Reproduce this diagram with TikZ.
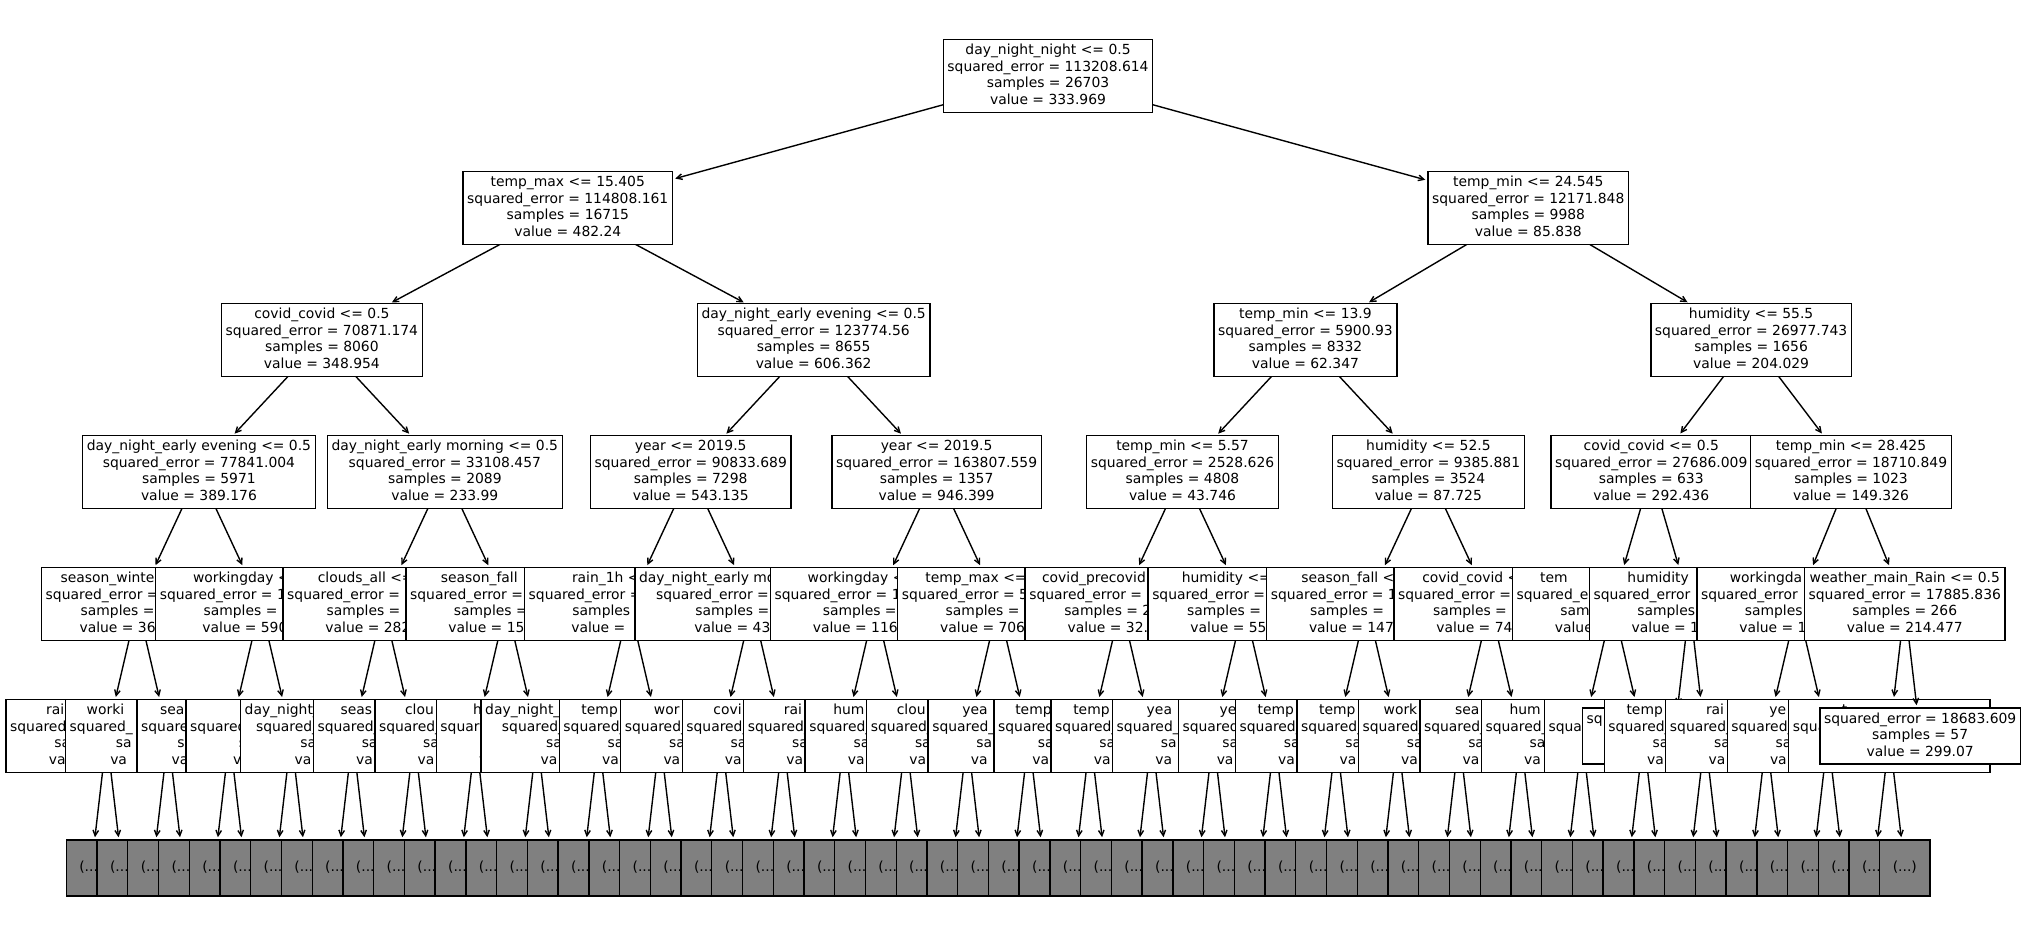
\documentclass[tikz,border=0pt]{standalone}
\usepackage{fontspec}
\setmainfont{DejaVu Sans}
\usetikzlibrary{arrows.meta}
\pgfdeclarelayer{bg}
\pgfdeclarelayer{l6}
\pgfdeclarelayer{l5}
\pgfdeclarelayer{l4}
\pgfdeclarelayer{l3}
\pgfdeclarelayer{l2}
\pgfdeclarelayer{l1}
\pgfsetlayers{bg,l6,l5,l4,l3,l2,l1,main}
\definecolor{mplgrey}{HTML}{808080}
\newcommand\bxfs{\fontsize{13.89pt}{16.5pt}\selectfont}
\newcommand\bxst{\rule[-3.3pt]{0pt}{13.9pt}}
\newcommand\bxF[4]{\bxst#1\\\bxst#2\\\bxst#3\\\bxst#4}
\newcommand\bxT[3]{\bxst#1\\\bxst#2\\\bxst#3}
\newcommand\bxV[2]{\makebox[#1pt][l]{#2}}
\newcommand\ph[1]{\phantom{#1}}
\newcommand\ux[1]{91.37+30.736*#1}
\newcommand\bxL[3]{\bxF{\bxV{#1}{#2}}{\bxV{#3}{squared\_}}{\bxV{104.7}{sa}}{\bxV{115.9}{va}}}
\tikzset{
  bx/.style={draw=black, fill=white, line width=1.39pt, inner xsep=4.17pt, inner ysep=0pt,
    outer sep=0pt, minimum height=72.6pt, align=center, font=\bxfs},
  lf/.style={bx, minimum height=56pt},
  gr/.style={bx, fill=mplgrey, minimum height=56pt, minimum width=50.1pt},
  ar/.style={line width=1.39pt, -{Straight Barb[length=5.56pt,width=5.56pt]}, shorten >=2.78pt}
}
\begin{document}
\begin{tikzpicture}[x=1pt,y=-1pt]
\useasboundingbox (0,0) rectangle (2026,944);
\begin{pgfonlayer}{bg}\fill[white] (0,0) rectangle (2026,944);\end{pgfonlayer}
% level 0
\node[bx] (a) at ({\ux{31.125}},76) {\bxF{day\_night\_night <= 0.5}{squared\_error = 113208.614}{samples = 26703}{value = 333.969}};
% level 1
\begin{pgfonlayer}{l1}
\node[bx] (b0) at ({\ux{15.5}},208) {\bxF{temp\_max <= 15.405}{squared\_error = 114808.161}{samples = 16715}{value = 482.24}};
\draw[ar] (a) -- (b0);
\node[bx] (b1) at ({\ux{46.75}},208) {\bxF{temp\_min <= 24.545}{squared\_error = 12171.848}{samples = 9988}{value = 85.838}};
\draw[ar] (a) -- (b1);
\end{pgfonlayer}
% level 2
\begin{pgfonlayer}{l2}
\node[bx] (c0) at ({\ux{7.5}},340) {\bxF{covid\_covid <= 0.5}{squared\_error = 70871.174}{samples = 8060}{value = 348.954}};
\draw[ar] (b0) -- (c0);
\node[bx] (c1) at ({\ux{23.5}},340) {\bxF{day\_night\_early evening <= 0.5}{squared\_error = 123774.56}{samples = 8655}{value = 606.362}};
\draw[ar] (b0) -- (c1);
\node[bx] (c2) at ({\ux{39.5}},340) {\bxF{temp\_min <= 13.9}{squared\_error = 5900.93}{samples = 8332}{value = 62.347}};
\draw[ar] (b1) -- (c2);
\node[bx] (c3) at ({\ux{54}},340) {\bxF{humidity <= 55.5}{squared\_error = 26977.743}{samples = 1656}{value = 204.029}};
\draw[ar] (b1) -- (c3);
\end{pgfonlayer}
% level 3
\begin{pgfonlayer}{l3}
\node[bx] (d0) at ({\ux{3.5}},472) {\bxF{day\_night\_early evening <= 0.5}{squared\_error = 77841.004}{samples = 5971}{value = 389.176}};
\draw[ar] (c0) -- (d0);
\node[bx] (d1) at ({\ux{11.5}},472) {\bxF{day\_night\_early morning <= 0.5}{squared\_error = 33108.457}{samples = 2089}{value = 233.99}};
\draw[ar] (c0) -- (d1);
\node[bx] (d2) at ({\ux{19.5}},472) {\bxF{year <= 2019.5}{squared\_error = 90833.689}{samples = 7298}{value = 543.135}};
\draw[ar] (c1) -- (d2);
\node[bx] (d3) at ({\ux{27.5}},472) {\bxF{year <= 2019.5}{squared\_error = 163807.559}{samples = 1357}{value = 946.399}};
\draw[ar] (c1) -- (d3);
\node[bx] (d4) at ({\ux{35.5}},472) {\bxF{temp\_min <= 5.57}{squared\_error = 2528.626}{samples = 4808}{value = 43.746}};
\draw[ar] (c2) -- (d4);
\node[bx] (d5) at ({\ux{43.5}},472) {\bxF{humidity <= 52.5}{squared\_error = 9385.881}{samples = 3524}{value = 87.725}};
\draw[ar] (c2) -- (d5);
\node[bx] (d6) at ({\ux{50.75}},472) {\bxF{covid\_covid <= 0.5}{squared\_error = 27686.009}{samples = 633}{value = 292.436}};
\draw[ar] (c3) -- (d6);
\node[bx] (d7) at ({\ux{57.25}},472) {\bxF{temp\_min <= 28.425}{squared\_error = 18710.849}{samples = 1023}{value = 149.326}};
\draw[ar] (c3) -- (d7);
\end{pgfonlayer}
% level 4
\begin{pgfonlayer}{l4}
\node[bx] (e0) at ({\ux{1.5}},604) {\bxF{season\_winte\ph{r <= 0.5}}{squared\_error = \ph{0000.000}}{samples = \ph{0000}}{value = 36\ph{0.000}}};
\draw[ar] (d0) -- (e0);
\node[bx] (e1) at ({\ux{5.5}},604) {\bxF{workingday <\ph{= 0.5}}{squared\_error = 1\ph{00000.000}}{samples = \ph{0000}}{value = 590\ph{.000}}};
\draw[ar] (d0) -- (e1);
\node[bx] (e2) at ({\ux{9.5}},604) {\bxF{clouds\_all <=\ph{ 00.5}}{squared\_error = \ph{00000.000}}{samples = \ph{0000}}{value = 282\ph{.000}}};
\draw[ar] (d1) -- (e2);
\node[bx] (e3) at ({\ux{13.5}},604) {\bxF{season\_fall\ph{ <= 0.5}}{squared\_error = \ph{00000.000}}{samples = \ph{000}}{value = 15\ph{0.000}}};
\draw[ar] (d1) -- (e3);
\node[bx] (e4) at ({\ux{17.5}},604) {\bxF{rain\_1h <\ph{= 0.05}}{squared\_error = \ph{000000.000}}{samples = \ph{0000}}{value = \ph{000.000}}};
\draw[ar] (d2) -- (e4);
\node[bx] (e5) at ({\ux{21.5}},604) {\bxF{day\_night\_early mo\ph{rning <= 0.5}}{squared\_error = \ph{00000.000}}{samples = \ph{0000}}{value = 43\ph{0.000}}};
\draw[ar] (d2) -- (e5);
\node[bx] (e6) at ({\ux{25.5}},604) {\bxF{workingday <\ph{= 0.5}}{squared\_error = 1\ph{00000.000}}{samples = \ph{000}}{value = 116\ph{0.000}}};
\draw[ar] (d3) -- (e6);
\node[bx] (e7) at ({\ux{29.5}},604) {\bxF{temp\_max <=\ph{ 5.555}}{squared\_error = 5\ph{0000.000}}{samples = \ph{000}}{value = 706\ph{.000}}};
\draw[ar] (d3) -- (e7);
\node[bx] (e8) at ({\ux{33.5}},604) {\bxF{covid\_precovid\ph{ <= 0.5}}{squared\_error = \ph{0000.000}}{samples = 2\ph{000}}{value = 32.\ph{000}}};
\draw[ar] (d4) -- (e8);
\node[bx] (e9) at ({\ux{37.5}},604) {\bxF{humidity <=\ph{ 00.5}}{squared\_error = \ph{0000.000}}{samples = \ph{0000}}{value = 55\ph{.000}}};
\draw[ar] (d4) -- (e9);
\node[bx] (e10) at ({\ux{41.5}},604) {\bxF{season\_fall <\ph{= 0.5}}{squared\_error = 1\ph{0000.000}}{samples = \ph{0000}}{value = 147\ph{.000}}};
\draw[ar] (d5) -- (e10);
\node[bx] (e11) at ({\ux{45.5}},604) {\bxF{covid\_covid <\ph{= 0.5}}{squared\_error = \ph{0000.000}}{samples = \ph{0000}}{value = 74\ph{.000}}};
\draw[ar] (d5) -- (e11);
\node[bx] (e12) at ({\ux{49.5}},604) {\bxF{tem\ph{p\_max <= 00.00}}{squared\_e\ph{rror = 00000.000}}{sam\ph{ples = 000}}{value\ph{ = 000.000}}};
\draw[ar] (d6) -- (e12);
\node[bx] (e13) at ({\ux{52}},604) {\bxF{humidity\ph{ <= 00.5}}{squared\_error\ph{ = 00000.000}}{samples\ph{ = 000}}{value = 1\ph{00.000}}};
\draw[ar] (d6) -- (e13);
\node[bx] (e14) at ({\ux{55.5}},604) {\bxF{workingda\ph{y <= 0.5}}{squared\_error\ph{ = 00000.000}}{samples\ph{ = 000}}{value = 1\ph{00.000}}};
\draw[ar] (d7) -- (e14);
\node[bx] (e15) at ({\ux{59}},604) {\bxF{weather\_main\_Rain <= 0.5}{squared\_error = 17885.836}{samples = 266}{value = 214.477}};
\draw[ar] (d7) -- (e15);
\end{pgfonlayer}
% level 5
\begin{pgfonlayer}{l5}
\foreach \ia/\ib/\ic/\id/\ie/\ig in {0/0.5/0/121/rai/193.1, 1/2.5/0/163/worki/197, 2/4.5/1/139/seas/177, 3/6.5/1/60//201.9,
  4/8.5/2/215.8/day\_night\_/193.1, 5/10.5/2/147/seas/193.1, 6/12.5/3/141/clou/193.1, 7/14.5/3/128/h/193.1,
  8/16.5/4/226.6/day\_night\_l/193.1, 9/18.5/4/157/temp/193.1, 10/20.5/5/135/wor/193.1, 11/22.5/5/139/covi/193.1,
  12/24.5/6/121/rai/193.1, 13/26.5/6/145/hum/193.1, 14/28.5/7/141/clou/193.1, 15/30.5/7/133/yea/193.1,
  16/32.5/8/150/temp/184.3, 17/34.5/8/157/temp/193.1, 18/36.5/9/133/yea/193.1, 19/38.5/9/110/ye/184.3,
  20/40.5/10/157/temp/193.1, 21/42.5/10/157/temp/193.1, 22/44.5/11/151/work/193.1, 23/46.5/11/131/sea/193.1,
  24/48.5/12/145/hum/193.1, 25/50.5/12/60//190}{
  \node[bx] (f\ia) at ({\ux{\ib}},736) {\bxL{\id}{\ie}{\ig}};
  \draw[ar] (e\ic) -- (f\ia);
}
\node[lf] (f26) at ({\ux{51.5}},736) {\bxT{\bxV{175.4}{sq}}{}{}};
\draw[ar] (e13) -- (f26);
\foreach \ia/\ib/\ic/\id/\ie in {27/52.5/13/157/temp, 28/54.5/14/121/rai, 29/56.5/14/117/ye, 30/58.5/15/95/t}{
  \node[bx] (f\ia) at ({\ux{\ib}},736) {\bxL{\id}{\ie}{193.1}};
  \draw[ar] (e\ic) -- (f\ia);
}
\node[lf] (f31) at ({\ux{59.5}},736) {\bxT{squared\_error = 18683.609}{samples = 57}{value = 299.07}};
\draw[ar] (e15) -- (f31);
\end{pgfonlayer}
% level 6
\begin{pgfonlayer}{l6}
\foreach \ia in {0,...,47}{
  \pgfmathtruncatemacro\ib{\ia/2}
  \node[gr] (g\ia) at ({\ux{\ia}},868) {\bxst(...)};
  \draw[ar] (f\ib) -- (g\ia);
}
\foreach \ia/\ib in {48/24,49/24,50/25,51/25,52/27,53/27,54/28,55/28,56/29,57/29,58/30,59/30}{
  \node[gr] (g\ia) at ({\ux{\ia}},868) {\bxst(...)};
  \draw[ar] (f\ib) -- (g\ia);
}
\end{pgfonlayer}
\end{tikzpicture}
\end{document}
